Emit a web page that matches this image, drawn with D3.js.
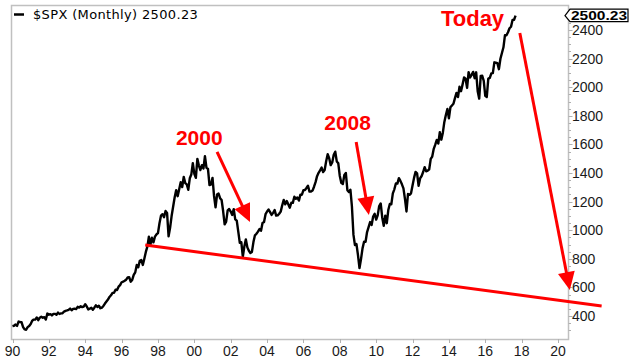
<!doctype html>
<html lang="en">
<head>
<meta charset="utf-8">
<title>$SPX Monthly</title>
<script src="https://cdn.jsdelivr.net/npm/d3@7"></script>
<style>
  body { margin: 0; background: #fff; }
  svg { display: block; }
</style>
</head>
<body>
<script>
// monthly closes, Jan 1990 .. Sep 2017
var startYear = 1990;
var closes = [
  329, 332, 340, 331, 361, 358, 356, 323, 306, 304, 322, 330,
  344, 367, 375, 375, 390, 371, 388, 395, 388, 392, 375, 417,
  409, 413, 404, 415, 415, 408, 424, 414, 418, 419, 431, 436,
  439, 443, 452, 440, 450, 451, 448, 464, 459, 468, 462, 466,
  482, 467, 446, 451, 457, 444, 458, 475, 463, 472, 454, 459,
  470, 487, 501, 515, 533, 545, 562, 562, 584, 582, 605, 616,
  636, 640, 646, 654, 669, 671, 640, 652, 687, 705, 757, 741,
  786, 791, 757, 801, 848, 885, 954, 899, 947, 915, 955, 970,
  980, 1049, 1102, 1112, 1091, 1134, 1121, 957, 1017, 1099, 1164, 1229,
  1280, 1238, 1286, 1335, 1302, 1373, 1329, 1320, 1283, 1363, 1389, 1469,
  1394, 1366, 1499, 1452, 1421, 1455, 1431, 1518, 1437, 1429, 1315, 1320,
  1366, 1240, 1160, 1249, 1256, 1224, 1211, 1134, 1041, 1060, 1139, 1148,
  1130, 1107, 1147, 1076, 1067, 990, 912, 916, 815, 886, 936, 880,
  856, 841, 848, 917, 964, 975, 990, 1008, 996, 1051, 1058, 1112,
  1131, 1145, 1126, 1107, 1121, 1141, 1102, 1104, 1115, 1130, 1174, 1212,
  1181, 1204, 1181, 1157, 1192, 1191, 1234, 1220, 1229, 1207, 1249, 1248,
  1280, 1281, 1295, 1311, 1270, 1270, 1277, 1304, 1336, 1378, 1401, 1418,
  1438, 1407, 1421, 1482, 1531, 1503, 1455, 1474, 1527, 1549, 1481, 1468,
  1379, 1331, 1323, 1386, 1400, 1280, 1267, 1283, 1166, 969, 896, 903,
  826, 735, 798, 873, 919, 919, 987, 1021, 1057, 1036, 1096, 1115,
  1074, 1104, 1169, 1187, 1089, 1031, 1102, 1049, 1141, 1183, 1181, 1258,
  1286, 1327, 1326, 1364, 1345, 1321, 1292, 1219, 1131, 1253, 1247, 1258,
  1312, 1366, 1408, 1398, 1310, 1362, 1379, 1407, 1441, 1412, 1416, 1426,
  1498, 1515, 1569, 1598, 1631, 1606, 1686, 1633, 1682, 1757, 1806, 1848,
  1783, 1859, 1872, 1884, 1924, 1960, 1931, 2003, 1972, 2018, 2068, 2059,
  1995, 2105, 2068, 2086, 2107, 2063, 2104, 1972, 1920, 2079, 2080, 2044,
  1940, 1932, 2060, 2065, 2097, 2099, 2174, 2171, 2168, 2126, 2199, 2239,
  2279, 2364, 2363, 2384, 2412, 2423, 2470, 2472, 2500.23
];
var lastValue = 2500.23;
var xTicks = [1990, 1992, 1994, 1996, 1998, 2000, 2002, 2004, 2006, 2008, 2010, 2012, 2014, 2016, 2018, 2020];
var yTicks = [400, 600, 800, 1000, 1200, 1400, 1600, 1800, 2000, 2200, 2400];

// support line and callouts, in [year, value]
var trendLine = [[1997.3, 896], [2022.4, 470]];
var callouts = [
  {label: "2000",  at: [2000.27, 1596], from: [2001.25, 1547], to: [2003.06, 1057]},
  {label: "2008",  at: [2008.43, 1701], from: [2008.9, 1617],  to: [2009.6, 1106]},
  {label: "Today", at: [2015.3, 2428],  from: [2017.9, 2379],  to: [2020.65, 582]}
];

var W = 637, H = 360;
var pLeft = 11, pRight = 568, pTop = 5, pBottom = 339;

var svg = d3.select("body").append("svg").attr("width", W).attr("height", H);

var x = d3.scaleLinear().domain([1990, 2020]).range([12.5, 558]);
var y = d3.scaleLinear().domain([400, 2400]).range([316, 30]);

var series = closes.map(function(v, i){ return {t: startYear + i/12, v: v}; });

// frame
svg.append("rect")
    .attr("x", pLeft + 0.5).attr("y", pTop + 0.5)
    .attr("width", pRight - pLeft).attr("height", pBottom - pTop)
    .attr("fill", "none").attr("stroke", "#c0c0c0").attr("stroke-width", 1.5);

// y axis on the right
var yMinor = d3.range(250, 2600, 50).filter(function(d){ return y(d) > pTop + 2 && y(d) < pBottom - 2; });
svg.append("g").selectAll("line").data(yMinor).enter().append("line")
    .attr("x1", pRight + 0.5).attr("x2", function(d){ return pRight + (d % 200 == 0 ? 4.5 : 3); })
    .attr("y1", function(d){ return Math.round(y(d)) + 0.5; })
    .attr("y2", function(d){ return Math.round(y(d)) + 0.5; })
    .attr("stroke", "#b0b0b0");

svg.append("g").selectAll("text").data(yTicks).enter().append("text")
    .attr("x", 572).attr("y", function(d){ return y(d) + 5; })
    .attr("font-family", "Liberation Sans, Arial, sans-serif")
    .attr("font-size", 14).attr("fill", "#1a1a1a")
    .text(function(d){ return d; });

// x axis
svg.append("g").selectAll("line").data(xTicks).enter().append("line")
    .attr("x1", function(d){ return Math.round(x(d)) + 0.5; })
    .attr("x2", function(d){ return Math.round(x(d)) + 0.5; })
    .attr("y1", pBottom).attr("y2", pBottom + 4)
    .attr("stroke", "#b0b0b0");

svg.append("g").selectAll("text").data(xTicks).enter().append("text")
    .attr("x", function(d){ return x(d); }).attr("y", 356)
    .attr("text-anchor", "middle")
    .attr("font-family", "Liberation Sans, Arial, sans-serif")
    .attr("font-size", 14).attr("fill", "#1a1a1a")
    .text(function(d){ return String(d % 100).padStart(2, "0"); });

// price line
svg.append("path").datum(series)
    .attr("d", d3.line().x(function(d){ return x(d.t); }).y(function(d){ return y(d.v); }))
    .attr("fill", "none").attr("stroke", "#000").attr("stroke-width", 2.4)
    .attr("stroke-linejoin", "round");

// trend line
svg.append("line")
    .attr("x1", x(trendLine[0][0])).attr("y1", y(trendLine[0][1]))
    .attr("x2", x(trendLine[1][0])).attr("y2", y(trendLine[1][1]))
    .attr("stroke", "#ff0000").attr("stroke-width", 3);

// callouts
callouts.forEach(function(c){
    var x1 = x(c.from[0]), y1 = y(c.from[1]), x2 = x(c.to[0]), y2 = y(c.to[1]);
    var dx = x2 - x1, dy = y2 - y1, len = Math.sqrt(dx*dx + dy*dy);
    var ux = dx/len, uy = dy/len, hl = 18, hw = 8.5;
    var bx = x2 - ux*hl, by = y2 - uy*hl;
    svg.append("line").attr("x1", x1).attr("y1", y1).attr("x2", bx + ux*2).attr("y2", by + uy*2)
        .attr("stroke", "#ff0000").attr("stroke-width", 3);
    svg.append("path")
        .attr("d", "M" + x2 + "," + y2 + "L" + (bx - uy*hw) + "," + (by + ux*hw) + "L" + (bx + uy*hw) + "," + (by - ux*hw) + "Z")
        .attr("fill", "#ff0000");
    svg.append("text")
        .attr("x", x(c.at[0])).attr("y", y(c.at[1]))
        .attr("text-anchor", "middle")
        .attr("font-family", "Liberation Sans, Arial, sans-serif")
        .attr("font-weight", "bold").attr("font-size", c.label == "Today" ? 22 : 21)
        .attr("fill", "#ff0000")
        .text(c.label);
});

// last value tag
var ty = y(lastValue);
svg.append("path")
    .attr("d", "M565," + ty + "L570," + (ty - 6.5) + "L628," + (ty - 6.5) + "L628," + (ty + 6) + "L570," + (ty + 6) + "Z")
    .attr("fill", "#fff").attr("stroke", "#000").attr("stroke-width", 1.2);
svg.append("text")
    .attr("x", 599).attr("y", ty + 4.5).attr("text-anchor", "middle")
    .attr("font-family", "Liberation Sans, Arial, sans-serif")
    .attr("font-weight", "bold").attr("font-size", 13)
    .attr("textLength", 56).attr("lengthAdjust", "spacingAndGlyphs")
    .text(lastValue.toFixed(2));

// legend
svg.append("line").attr("x1", 14).attr("x2", 24).attr("y1", 14.5).attr("y2", 14.5)
    .attr("stroke", "#000").attr("stroke-width", 2.5);
svg.append("text")
    .attr("x", 33).attr("y", 19)
    .attr("font-family", "DejaVu Sans, Verdana, sans-serif")
    .attr("font-size", 13).attr("letter-spacing", 0.35).attr("fill", "#000")
    .text("$SPX (Monthly) " + lastValue.toFixed(2));
</script>
</body>
</html>
